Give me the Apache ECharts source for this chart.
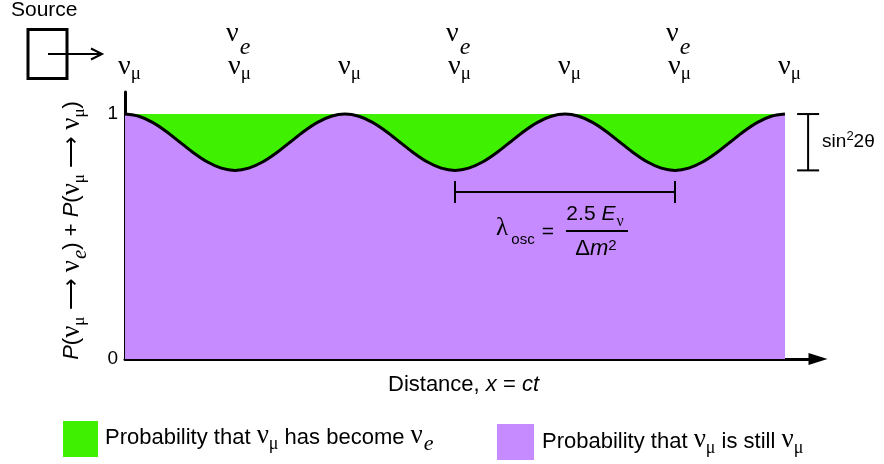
<!DOCTYPE html>
<html>
<head>
<meta charset="utf-8">
<script src="https://cdn.jsdelivr.net/npm/echarts@6/dist/echarts.min.js"></script>
<style>
  html, body { margin: 0; padding: 0; background: #fff; }
  #chart { width: 884px; height: 464px; }
</style>
</head>
<body>
<div id="chart"></div>
<script>
// Distance along the beam, in units of the oscillation length λosc
const distance = [
  0, 0.0625, 0.125, 0.1875, 0.25, 0.3125, 0.375, 0.4375,
  0.5, 0.5625, 0.625, 0.6875, 0.75, 0.8125, 0.875, 0.9375,
  1, 1.0625, 1.125, 1.1875, 1.25, 1.3125, 1.375, 1.4375,
  1.5, 1.5625, 1.625, 1.6875, 1.75, 1.8125, 1.875, 1.9375,
  2, 2.0625, 2.125, 2.1875, 2.25, 2.3125, 2.375, 2.4375,
  2.5, 2.5625, 2.625, 2.6875, 2.75, 2.8125, 2.875, 2.9375, 3
];
// P(νμ → νμ): survival probability
const probStillMu = [
  1.000, 0.991, 0.966, 0.929, 0.885, 0.841, 0.804, 0.779,
  0.770, 0.779, 0.804, 0.841, 0.885, 0.929, 0.966, 0.991,
  1.000, 0.991, 0.966, 0.929, 0.885, 0.841, 0.804, 0.779,
  0.770, 0.779, 0.804, 0.841, 0.885, 0.929, 0.966, 0.991,
  1.000, 0.991, 0.966, 0.929, 0.885, 0.841, 0.804, 0.779,
  0.770, 0.779, 0.804, 0.841, 0.885, 0.929, 0.966, 0.991, 1.000
];
// P(νμ → νe): appearance probability
const probBecameE = [
  0.000, 0.009, 0.034, 0.071, 0.115, 0.159, 0.196, 0.221,
  0.230, 0.221, 0.196, 0.159, 0.115, 0.071, 0.034, 0.009,
  0.000, 0.009, 0.034, 0.071, 0.115, 0.159, 0.196, 0.221,
  0.230, 0.221, 0.196, 0.159, 0.115, 0.071, 0.034, 0.009,
  0.000, 0.009, 0.034, 0.071, 0.115, 0.159, 0.196, 0.221,
  0.230, 0.221, 0.196, 0.159, 0.115, 0.071, 0.034, 0.009, 0.000
];
// Flavour content along the beam
const muFlavourAt = [0, 0.5, 1, 1.5, 2, 2.5, 3];
const eFlavourAt = [0.5, 1.5, 2.5];
const yTickValues = [0, 1];
// One oscillation length, measured minimum to minimum
const oscSpan = [1.5, 2.5];
// Oscillation depth sin²2θ: from full survival down to the minimum
const depthSpan = [1, 0.77];

const SANS = '"Liberation Sans", Arial, Helvetica, sans-serif';
const SERIF = '"Liberation Serif", "Times New Roman", serif';
const GREEN = '#3ff000';
const PURPLE = '#c68bff';
const NAME_E = 'Probability that νμ has become νe';
const NAME_MU = 'Probability that νμ is still νμ';

// The green band is the part of the total that has turned into νe,
// so it is drawn as the running total P(νμ→νe) + P(νμ→νμ) under the purple area.
const probTotal = probStillMu.map((v, i) => +(v + probBecameE[i]).toFixed(3));

const topRich = {
  n: { fontFamily: SERIF, fontSize: 28, fill: '#000', lineHeight: 30, verticalAlign: 'top' },
  s: { fontFamily: SERIF, fontSize: 19, fill: '#000', padding: [12, 0, 0, 0], verticalAlign: 'top' },
  e: { fontFamily: SERIF, fontStyle: 'italic', fontSize: 24, fill: '#000', padding: [16, 0, 0, 1], verticalAlign: 'top' }
};

const legendRich = {
  t: { fontFamily: SANS, fontSize: 22, color: '#000', lineHeight: 30, verticalAlign: 'top', padding: [4, 0, 0, 0] },
  n: { fontFamily: SERIF, fontSize: 27, color: '#000', lineHeight: 30, verticalAlign: 'top' },
  s: { fontFamily: SERIF, fontSize: 18, color: '#000', padding: [13, 0, 0, 0], verticalAlign: 'top' },
  e: { fontFamily: SERIF, fontStyle: 'italic', fontSize: 22, color: '#000', padding: [11, 0, 0, 1], verticalAlign: 'top' }
};

const yNameRich = {
  i: { fontFamily: SANS, fontStyle: 'italic', fontSize: 22, color: '#000', lineHeight: 28, verticalAlign: 'top', padding: [3, 0, 0, 0] },
  t: { fontFamily: SANS, fontSize: 22, color: '#000', lineHeight: 28, verticalAlign: 'top', padding: [3, 0, 0, 0] },
  n: { fontFamily: SERIF, fontSize: 27, color: '#000', lineHeight: 28, verticalAlign: 'top' },
  s: { fontFamily: SERIF, fontSize: 17, color: '#000', padding: [13, 0, 0, 0], verticalAlign: 'top' },
  e: { fontFamily: SERIF, fontStyle: 'italic', fontSize: 21, color: '#000', padding: [12, 0, 0, 1], verticalAlign: 'top' }
};

function legendText(name) {
  if (name === NAME_E) return '{t|Probability that }{n|ν}{s|μ}{t| has become }{n|ν}{e|e}';
  return '{t|Probability that }{n|ν}{s|μ}{t| is still }{n|ν}{s|μ}';
}

// Flavour label row above the plot, placed at each distance through the x scale
function flavourRow(positions, text, dx, dy) {
  return {
    type: 'custom', silent: true, z: 6, clip: false,
    data: positions.map(d => [d, 1]),
    renderItem: function (params, api) {
      const p = api.coord([api.value(0), api.value(1)]);
      return {
        type: 'text', x: p[0] + dx, y: p[1] + dy,
        style: { text: text, rich: topRich, fill: '#000', align: 'left', verticalAlign: 'middle' }
      };
    }
  };
}

const chart = echarts.init(document.getElementById('chart'), null, { renderer: 'canvas' });

const option = {
  animation: false,
  backgroundColor: '#fff',
  grid: { left: 125, right: 66, top: 92, bottom: 105 },
  xAxis: {
    type: 'value', min: 0, max: 3.15,
    axisLine: { show: true, lineStyle: { color: '#000', width: 3 }, symbol: ['none', 'triangle'], symbolSize: [12, 19] },
    axisTick: { show: false }, axisLabel: { show: false }, splitLine: { show: false },
    name: 'Distance, {i|x} = {i|ct}', nameLocation: 'middle', nameGap: 15,
    nameTextStyle: {
      fontFamily: SANS, fontSize: 22, color: '#000', padding: [0, 16, 0, 0],
      rich: { i: { fontFamily: SANS, fontStyle: 'italic', fontSize: 22, color: '#000' } }
    }
  },
  yAxis: {
    type: 'value', min: 0, max: 1.09,
    axisLine: { show: true, lineStyle: { color: '#000', width: 3 } },
    axisTick: { show: false }, splitLine: { show: false },
    axisLabel: { customValues: yTickValues, margin: 7, fontFamily: SANS, fontSize: 19, color: '#000' },
    name: '{i|P}{t|(}{n|ν}{s|μ}{t| ⟶ }{n|ν}{e|e}{t|) + }{i|P}{t|(}{n|ν}{s|μ}{t| ⟶ }{n|ν}{s|μ}{t|)}',
    nameLocation: 'middle', nameRotate: 90, nameGap: 34,
    nameTextStyle: { rich: yNameRich, padding: [0, 10, 0, 0] }
  },
  legend: [
    {
      data: [NAME_E], left: 63, top: 421, padding: 0, itemWidth: 35, itemHeight: 36, icon: 'rect',
      itemStyle: { color: GREEN, borderWidth: 0 }, selectedMode: false,
      formatter: legendText, textStyle: { rich: legendRich, padding: [0, 0, 0, 2] }
    },
    {
      data: [NAME_MU], left: 497, top: 424, padding: 0, itemWidth: 37, itemHeight: 36, icon: 'rect',
      itemStyle: { color: PURPLE, borderWidth: 0 }, selectedMode: false,
      formatter: legendText, textStyle: { rich: legendRich, padding: [0, 0, 0, 3] }
    }
  ],
  series: [
    {
      name: NAME_E, type: 'line', smooth: 0.3, symbol: 'none', z: 2,
      data: distance.map((d, i) => [d, probTotal[i]]),
      itemStyle: { color: GREEN },
      lineStyle: { width: 0 },
      areaStyle: { color: GREEN, opacity: 1 },
      silent: true
    },
    {
      name: NAME_MU, type: 'line', smooth: 0.3, symbol: 'none', z: 3,
      data: distance.map((d, i) => [d, probStillMu[i]]),
      itemStyle: { color: PURPLE },
      lineStyle: { color: '#000', width: 3 },
      areaStyle: { color: PURPLE, opacity: 1 },
      silent: true
    },
    flavourRow(muFlavourAt, '{n|ν}{s|μ}', -7, -46),
    flavourRow(eFlavourAt, '{n|ν}{e|e}', -9, -74),
    {
      // oscillation-length bracket with its formula
      name: 'oscLength', type: 'custom', silent: true, z: 6, clip: false,
      data: [[oscSpan[0], oscSpan[1], 0.682]],
      renderItem: function (params, api) {
        const a = api.coord([api.value(0), api.value(2)]);
        const b = api.coord([api.value(1), api.value(2)]);
        const cx = (a[0] + b[0]) / 2, y = a[1];
        const ls = { stroke: '#000', lineWidth: 2 };
        return {
          type: 'group',
          children: [
            { type: 'line', shape: { x1: a[0], y1: y, x2: b[0], y2: y }, style: ls },
            { type: 'line', shape: { x1: a[0], y1: y - 11, x2: a[0], y2: y + 11 }, style: ls },
            { type: 'line', shape: { x1: b[0], y1: y - 11, x2: b[0], y2: y + 11 }, style: ls },
            { type: 'text', x: cx - 63, y: y + 36, style: { text: 'λ', font: '25px ' + SERIF, fill: '#000', align: 'center', verticalAlign: 'middle' } },
            { type: 'text', x: cx - 42, y: y + 48, style: { text: 'osc', font: '15px ' + SANS, fill: '#000', align: 'center', verticalAlign: 'middle' } },
            { type: 'text', x: cx - 17, y: y + 40, style: { text: '=', font: '21px ' + SANS, fill: '#000', align: 'center', verticalAlign: 'middle' } },
            { type: 'line', shape: { x1: cx + 1, y1: y + 39, x2: cx + 63, y2: y + 39 }, style: { stroke: '#000', lineWidth: 2 } },
            { type: 'text', x: cx + 30, y: y + 25, style: {
                text: '{t|2.5 }{i|E}{s|ν}', align: 'center', verticalAlign: 'middle',
                rich: {
                  t: { fontFamily: SANS, fontSize: 21, fill: '#000', lineHeight: 24, verticalAlign: 'top' },
                  i: { fontFamily: SANS, fontStyle: 'italic', fontSize: 21, fill: '#000', lineHeight: 24, verticalAlign: 'top' },
                  s: { fontFamily: SERIF, fontSize: 16, fill: '#000', padding: [10, 0, 0, 1], verticalAlign: 'top' }
                } } },
            { type: 'text', x: cx + 31, y: y + 58, style: {
                text: '{t|Δ}{i|m}{p|2}', align: 'center', verticalAlign: 'middle',
                rich: {
                  t: { fontFamily: SANS, fontSize: 22, fill: '#000', lineHeight: 24, verticalAlign: 'top' },
                  i: { fontFamily: SANS, fontStyle: 'italic', fontSize: 22, fill: '#000', lineHeight: 24, verticalAlign: 'top' },
                  p: { fontFamily: SANS, fontSize: 15, fill: '#000', padding: [0, 0, 0, 0], verticalAlign: 'top' }
                } } }
          ]
        };
      }
    },
    {
      // depth bracket sin²2θ beside the curve
      name: 'depth', type: 'custom', silent: true, z: 6, clip: false,
      data: [[3.105, depthSpan[0], depthSpan[1]]],
      renderItem: function (params, api) {
        const top = api.coord([api.value(0), api.value(1)]);
        const bot = api.coord([api.value(0), api.value(2)]);
        const x = top[0];
        const ls = { stroke: '#000', lineWidth: 2 };
        return {
          type: 'group',
          children: [
            { type: 'line', shape: { x1: x, y1: top[1], x2: x, y2: bot[1] }, style: ls },
            { type: 'line', shape: { x1: x - 11, y1: top[1], x2: x + 11, y2: top[1] }, style: ls },
            { type: 'line', shape: { x1: x - 11, y1: bot[1], x2: x + 11, y2: bot[1] }, style: ls },
            { type: 'text', x: x + 14, y: (top[1] + bot[1]) / 2, style: {
                text: '{t|sin}{p|2}{t|2θ}', align: 'left', verticalAlign: 'middle',
                rich: {
                  t: { fontFamily: SANS, fontSize: 19, fill: '#000', lineHeight: 24, verticalAlign: 'top', padding: [2, 0, 0, 0] },
                  p: { fontFamily: SANS, fontSize: 13, fill: '#000', verticalAlign: 'top' }
                } } }
          ]
        };
      }
    }
  ],
  graphic: [
    { type: 'text', left: 11, top: 0, style: { text: 'Source', font: '21px ' + SANS, fill: '#000' } },
    { type: 'rect', shape: { x: 28, y: 29.5, width: 39, height: 49 }, style: { fill: 'none', stroke: '#000', lineWidth: 3 } },
    { type: 'polyline', shape: { points: [[48, 54], [102, 54]] }, style: { stroke: '#000', lineWidth: 2, fill: 'none' } },
    { type: 'polyline', shape: { points: [[91, 48.5], [102, 54], [91, 59.5]] }, style: { stroke: '#000', lineWidth: 2, fill: 'none' } }
  ]
};

chart.setOption(option);
</script>
</body>
</html>
